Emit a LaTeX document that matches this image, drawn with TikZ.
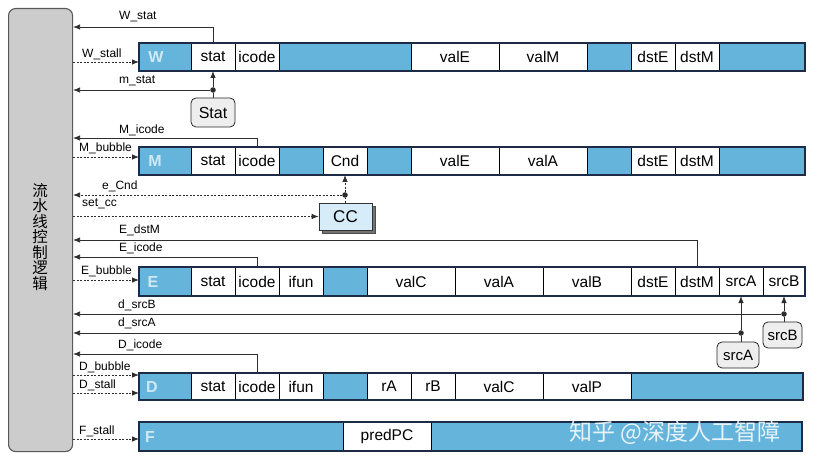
\documentclass[tikz,border=0pt]{standalone}
\usepackage{fontspec}
\setmainfont{Liberation Sans}
\newfontfamily\cjk{Noto Sans CJK SC}
\usetikzlibrary{arrows.meta,shadows}
\definecolor{regblue}{RGB}{100,180,220}
\definecolor{regframe}{RGB}{28,44,70}
\definecolor{ctrlgray}{RGB}{204,204,204}
\definecolor{linec}{RGB}{45,45,45}
\definecolor{ccblue}{RGB}{214,236,248}
\definecolor{boxgray}{RGB}{238,238,238}
\begin{document}
\begin{tikzpicture}[x=1pt,y=-1pt,
  cell/.style={draw=black, line width=0.8pt, fill=white, minimum height=28pt,
    anchor=north west, inner sep=0pt, outer sep=0pt,
    font=\fontsize{15.5}{16}\selectfont},
  bcell/.style={cell, fill=regblue},
  frame/.style={draw=regframe, line width=1.8pt},
  stagelbl/.style={text=white, opacity=0.7, font=\bfseries\fontsize{16}{16}\selectfont, inner sep=0pt},
  sig/.style={draw=linec, line width=0.8pt, -{Latex[length=7pt,width=5.5pt]}},
  plain/.style={draw=linec, line width=0.8pt},
  ctl/.style={sig, dash pattern=on 2pt off 1.5pt},
  ctlplain/.style={plain, dash pattern=on 2pt off 1.5pt},
  dotn/.style={circle, fill=linec, inner sep=0pt, minimum size=5.5pt},
  lab/.style={font=\fontsize{12}{12}\selectfont, inner sep=0pt, anchor=west},
  rbox/.style={draw=black!85, line width=0.8pt, rounded corners=5pt, fill=boxgray, inner sep=0pt}
]
\useasboundingbox[fill=white] (0,0) rectangle (817,468);

% control logic block
\node[draw=black!65, line width=1.1pt, fill=ctrlgray, rounded corners=7pt, anchor=north west,
  minimum width=64pt, minimum height=443pt, inner sep=0pt] (ctrl) at (8,8) {};
\node[font=\cjk\fontsize{15.5}{15.5}\selectfont, align=center, inner sep=0pt] (ctrltxt) at (40,237)
  {流\\水\\线\\控\\制\\逻\\辑};

% ---------- W register ----------
\node[bcell, minimum width=52pt] (Wl) at (139,43) {};
\node[cell, minimum width=44pt] (Wstat) at (191,43) {stat};
\node[cell, minimum width=44pt] (Wicode) at (235,43) {icode};
\node[bcell, minimum width=132pt] (Wb1) at (279,43) {};
\node[cell, minimum width=88pt] (WvalE) at (411,43) {valE};
\node[cell, minimum width=88pt] (WvalM) at (499,43) {valM};
\node[bcell, minimum width=44pt] (Wb2) at (587,43) {};
\node[cell, minimum width=44pt] (WdstE) at (631,43) {dstE};
\node[cell, minimum width=44pt] (WdstM) at (675,43) {dstM};
\node[bcell, minimum width=86pt] (Wr) at (719,43) {};
\draw[frame] (Wl.north west) rectangle (Wr.south east);
\node[stagelbl] (Wtxt) at (156,57) {W};

% ---------- M register ----------
\node[bcell, minimum width=52pt] (Ml) at (139,147) {};
\node[cell, minimum width=44pt] (Mstat) at (191,147) {stat};
\node[cell, minimum width=44pt] (Micode) at (235,147) {icode};
\node[bcell, minimum width=44pt] (Mb1) at (279,147) {};
\node[cell, minimum width=44pt] (MCnd) at (323,147) {Cnd};
\node[bcell, minimum width=44pt] (Mb2) at (367,147) {};
\node[cell, minimum width=88pt] (MvalE) at (411,147) {valE};
\node[cell, minimum width=88pt] (MvalA) at (499,147) {valA};
\node[bcell, minimum width=44pt] (Mb3) at (587,147) {};
\node[cell, minimum width=44pt] (MdstE) at (631,147) {dstE};
\node[cell, minimum width=44pt] (MdstM) at (675,147) {dstM};
\node[bcell, minimum width=86pt] (Mr) at (719,147) {};
\draw[frame] (Ml.north west) rectangle (Mr.south east);
\node[stagelbl] (Mtxt) at (155,161) {M};

% ---------- E register ----------
\node[bcell, minimum width=52pt, minimum height=29pt] (El) at (139,267) {};
\node[cell, minimum width=44pt, minimum height=29pt] (Estat) at (191,267) {stat};
\node[cell, minimum width=44pt, minimum height=29pt] (Eicode) at (235,267) {icode};
\node[cell, minimum width=44pt, minimum height=29pt] (Eifun) at (279,267) {ifun};
\node[bcell, minimum width=44pt, minimum height=29pt] (Eb1) at (323,267) {};
\node[cell, minimum width=88pt, minimum height=29pt] (EvalC) at (367,267) {valC};
\node[cell, minimum width=88pt, minimum height=29pt] (EvalA) at (455,267) {valA};
\node[cell, minimum width=88pt, minimum height=29pt] (EvalB) at (543,267) {valB};
\node[cell, minimum width=44pt, minimum height=29pt] (EdstE) at (631,267) {dstE};
\node[cell, minimum width=44pt, minimum height=29pt] (EdstM) at (675,267) {dstM};
\node[cell, minimum width=44pt, minimum height=29pt] (EsrcA) at (719,267) {srcA};
\node[cell, minimum width=42pt, minimum height=29pt] (EsrcB) at (763,267) {srcB};
\draw[frame] (El.north west) rectangle (EsrcB.south east);
\node[stagelbl] (Etxt) at (153,281.5) {E};

% ---------- D register ----------
\node[bcell, minimum width=52pt, minimum height=27pt] (Dl) at (139,373) {};
\node[cell, minimum width=44pt, minimum height=27pt] (Dstat) at (191,373) {stat};
\node[cell, minimum width=44pt, minimum height=27pt] (Dicode) at (235,373) {icode};
\node[cell, minimum width=44pt, minimum height=27pt] (Difun) at (279,373) {ifun};
\node[bcell, minimum width=44pt, minimum height=27pt] (Db1) at (323,373) {};
\node[cell, minimum width=44pt, minimum height=27pt] (DrA) at (367,373) {rA};
\node[cell, minimum width=44pt, minimum height=27pt] (DrB) at (411,373) {rB};
\node[cell, minimum width=88pt, minimum height=27pt] (DvalC) at (455,373) {valC};
\node[cell, minimum width=88pt, minimum height=27pt] (DvalP) at (543,373) {valP};
\node[bcell, minimum width=172pt, minimum height=27pt] (Dr) at (631,373) {};
\draw[frame] (Dl.north west) rectangle (Dr.south east);
\node[stagelbl] (Dtxt) at (152,386.5) {D};

% ---------- F register ----------
\node[bcell, minimum width=204pt, minimum height=29pt] (Fl) at (139,422) {};
\node[cell, minimum width=88pt, minimum height=29pt] (FpredPC) at (343,422) {predPC};
\node[bcell, minimum width=371pt, minimum height=29pt] (Fr) at (431,422) {};
\draw[frame] (Fl.north west) rectangle (Fr.south east);
\node[stagelbl] (Ftxt) at (150,436.5) {F};

% ---------- boxes ----------
\node[rbox, minimum width=44pt, minimum height=29pt, font=\fontsize{16}{16}\selectfont] (Stat) at (213,112.5) {Stat};
\node[draw=black!80, line width=0.8pt, fill=ccblue, minimum width=53pt, minimum height=27pt, inner sep=0pt,
  font=\fontsize{17}{17}\selectfont,
  copy shadow={shadow xshift=3pt, shadow yshift=-3pt, fill=black!55, draw=black!70}] (CC) at (345.5,216.5) {CC};
\node[rbox, minimum width=42pt, minimum height=26pt, font=\fontsize{15}{15}\selectfont] (srcAbox) at (738,355) {srcA};
\node[rbox, minimum width=39pt, minimum height=26pt, font=\fontsize{15}{15}\selectfont] (srcBbox) at (782.5,335) {srcB};

% ---------- lane coordinates ----------
\coordinate (yWstat) at (0,27);
\coordinate (yWstall) at (0,62);
\coordinate (yMicode) at (0,138);
\coordinate (yMbubble) at (0,157);
\coordinate (ysetcc) at (0,216.5);
\coordinate (yEdstM) at (0,240);
\coordinate (yEicode) at (0,257);
\coordinate (yEbubble) at (0,280);
\coordinate (yDicode) at (0,354);
\coordinate (yDbubble) at (0,375);
\coordinate (yDstall) at (0,393);
\coordinate (yFstall) at (0,439);

% dots
\node[dotn] (dmstat) at (213,90) {};
\node[dotn] (deCnd) at (345,195) {};
\node[dotn] (dsrcB) at (784,314) {};
\node[dotn] (dsrcA) at (741,333) {};

% ---------- connectors ----------
% W
\draw[sig] (Wstat.north) |- (ctrl.east |- yWstat);
\draw[ctl] (ctrl.east |- yWstall) -- (Wl.west |- yWstall);
\draw[plain] (Stat.north) -- (dmstat);
\draw[sig] (dmstat) -- (Wstat.south);
\draw[sig] (dmstat) -- (ctrl.east |- dmstat);
% M
\draw[sig] (Micode.north) |- (ctrl.east |- yMicode);
\draw[ctl] (ctrl.east |- yMbubble) -- (Ml.west |- yMbubble);
\draw[ctlplain] (CC.north -| deCnd) -- (deCnd);
\draw[ctl] (deCnd) -- (MCnd.south);
\draw[ctl] (deCnd) -- (ctrl.east |- deCnd);
\draw[ctl] (ctrl.east |- ysetcc) -- (CC.west);
% E
\draw[sig] (EdstM.north) |- (ctrl.east |- yEdstM);
\draw[sig] (Eicode.north) |- (ctrl.east |- yEicode);
\draw[ctl] (ctrl.east |- yEbubble) -- (El.west |- yEbubble);
\draw[plain] (srcBbox.north -| dsrcB) -- (dsrcB);
\draw[sig] (dsrcB) -- (EsrcB.south);
\draw[sig] (dsrcB) -- (ctrl.east |- dsrcB);
\draw[plain] (srcAbox.north -| dsrcA) -- (dsrcA);
\draw[sig] (dsrcA) -- (EsrcA.south);
\draw[sig] (dsrcA) -- (ctrl.east |- dsrcA);
% D
\draw[sig] (Dicode.north) |- (ctrl.east |- yDicode);
\draw[ctl] (ctrl.east |- yDbubble) -- (Dl.west |- yDbubble);
\draw[ctl] (ctrl.east |- yDstall) -- (Dl.west |- yDstall);
% F
\draw[ctl] (ctrl.east |- yFstall) -- (Fl.west |- yFstall);

% ---------- labels ----------
\node[lab] (lWstat) at (119,17) {W\_stat};
\node[lab] (lWstall) at (82,54) {W\_stall};
\node[lab] (lmstat) at (119,81) {m\_stat};
\node[lab] (lMicode) at (119,130) {M\_icode};
\node[lab] (lMbubble) at (79,148) {M\_bubble};
\node[lab] (leCnd) at (102,186) {e\_Cnd};
\node[lab] (lsetcc) at (82,204) {set\_cc};
\node[lab] (lEdstM) at (119,230) {E\_dstM};
\node[lab] (lEicode) at (119,248) {E\_icode};
\node[lab] (lEbubble) at (81,271) {E\_bubble};
\node[lab] (ldsrcB) at (118,305) {d\_srcB};
\node[lab] (ldsrcA) at (118,323) {d\_srcA};
\node[lab] (lDicode) at (118,345) {D\_icode};
\node[lab] (lDbubble) at (79,367) {D\_bubble};
\node[lab] (lDstall) at (79,385) {D\_stall};
\node[lab] (lFstall) at (79,431) {F\_stall};

% watermark
\node[font=\cjk\fontsize{23}{23}\selectfont, text=white, opacity=0.85, anchor=west, inner sep=0pt] (wm) at (569,433) {知乎 @深度人工智障};
\end{tikzpicture}
\end{document}
